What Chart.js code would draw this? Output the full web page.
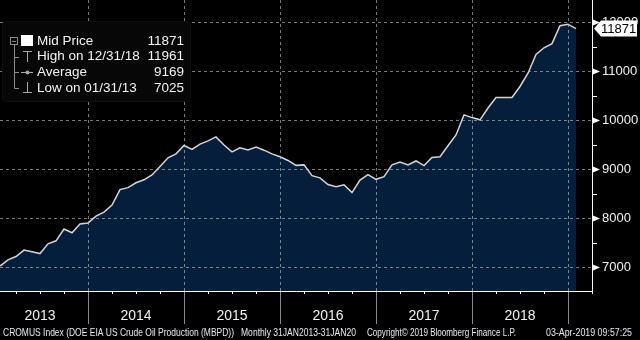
<!DOCTYPE html>
<html>
<head>
<meta charset="utf-8">
<script src="https://cdn.jsdelivr.net/npm/chart.js@4/dist/chart.umd.min.js"></script>
<style>
  html, body { margin: 0; background: #000; }
  canvas { display: block; }
</style>
</head>
<body>
<canvas id="oilChart" width="640" height="340"></canvas>
<script>
// Monthly US crude oil production (MBPD), Jan 2013 .. Jan 2019
const startYear = 2013
const production = [
  7025, 7150, 7220, 7350, 7315, 7280, 7480, 7540, 7780, 7705, 7885, 7905,
  8045, 8125, 8270, 8585, 8625, 8725, 8785, 8885, 9055, 9235, 9315, 9485,
  9405, 9515, 9580, 9660, 9495, 9355, 9440, 9395, 9455, 9390, 9315, 9255,
  9180, 9080, 9090, 8870, 8825, 8690, 8645, 8685, 8525, 8780, 8890, 8795,
  8850, 9090, 9150, 9090, 9170, 9075, 9240, 9255, 9480, 9700, 10110, 10055,
  10010, 10250, 10465, 10465, 10465, 10690, 10960, 11345, 11480, 11565, 11930, 11961,
  11871
]
const yearLabels = ["2013", "2014", "2015", "2016", "2017", "2018"]
const yTickValues = [7000, 7500, 8000, 8500, 9000, 9500, 10000, 10500, 11000, 11500, 12000]
const legendNames = ["Mid Price", "High on 12/31/18", "Average", "Low on 01/31/13"]
const legendValues = ["11871", "11961", "9169", "7025"]
const footerParts = [
  "CROMUS Index (DOE EIA US Crude Oil Production (MBPD))",
  "Monthly 31JAN2013-31JAN20",
  "Copyright\u00a9 2019 Bloomberg Finance L.P.",
  "03-Apr-2019 09:57:25"
]

const FONT = '"Liberation Sans", Arial, sans-serif'
const GRID = "rgba(200,200,200,0.6)"

// quarter ticks on the month index axis (year ends fall on index 11, 23, ...)
const quarterTicks = []
for (let i = 2; i <= 74; i += 3) quarterTicks.push(i)
const isYearEnd = v => (v + 1) % 12 === 0

const decor = {
  id: "decor",
  // dashed grid on top of the filled area
  afterDatasetsDraw(chart) {
    const { ctx, chartArea, scales: { x, y } } = chart
    ctx.save()
    ctx.strokeStyle = GRID
    ctx.lineWidth = 1
    ctx.setLineDash([3, 3])
    ctx.beginPath()
    yTickValues.filter(v => v % 1000 === 0).forEach(v => {
      const py = Math.round(y.getPixelForValue(v)) + 0.5
      ctx.moveTo(chartArea.left, py)
      ctx.lineTo(chartArea.right, py)
    })
    quarterTicks.filter(isYearEnd).forEach(v => {
      const px = Math.round(x.getPixelForValue(v)) + 0.5
      ctx.moveTo(px, chartArea.top)
      ctx.lineTo(px, chartArea.bottom)
    })
    ctx.stroke()
    ctx.restore()
  },
  afterDraw(chart) {
    const { ctx, chartArea, scales: { x, y } } = chart
    ctx.save()

    // y axis markers
    ctx.fillStyle = "#fff"
    ctx.strokeStyle = "#fff"
    ctx.lineWidth = 1
    yTickValues.forEach(v => {
      const py = Math.round(y.getPixelForValue(v)) + 0.5
      if (v % 1000 === 0) {
        ctx.beginPath()
        ctx.moveTo(593, py - 3)
        ctx.lineTo(600, py)
        ctx.lineTo(593, py + 3)
        ctx.closePath()
        ctx.fill()
      } else {
        ctx.beginPath()
        ctx.moveTo(593, py)
        ctx.lineTo(597, py)
        ctx.stroke()
      }
    })

    // year separators + labels
    ctx.strokeStyle = "#8a8a8a"
    yearLabels.forEach((lab, k) => {
      const px = Math.round(x.getPixelForValue((k + 1) * 12 - 1)) + 0.5
      ctx.beginPath()
      ctx.moveTo(px, chartArea.bottom + 1)
      ctx.lineTo(px, 324)
      ctx.stroke()
    })
    ctx.fillStyle = "#f0f0f0"
    ctx.font = "14px " + FONT
    ctx.textAlign = "center"
    ctx.textBaseline = "middle"
    yearLabels.forEach((lab, k) => {
      ctx.fillText(lab, x.getPixelForValue(k * 12 + 5), 316)
    })

    // legend box
    ctx.fillStyle = "#070707"
    ctx.strokeStyle = "#101010"
    ctx.beginPath()
    ctx.roundRect(2.5, 21.5, 188, 80, 4)
    ctx.fill()
    ctx.stroke()

    const rows = [41, 56.5, 72, 88]
    ctx.strokeStyle = "#8c8c8c"
    ctx.strokeRect(10.5, 37.5, 7, 7)
    ctx.beginPath()
    ctx.moveTo(12, 41.5); ctx.lineTo(16, 41.5)
    ctx.moveTo(14.5, 45); ctx.lineTo(14.5, 88.5)
    rows.slice(1).forEach(r => {
      ctx.moveTo(14.5, Math.round(r) + 0.5)
      ctx.lineTo(19, Math.round(r) + 0.5)
    })
    ctx.stroke()

    ctx.fillStyle = "#fff"
    ctx.fillRect(21, 35, 12, 11)

    ctx.strokeStyle = "#a8a8a8"
    ctx.beginPath()
    ctx.moveTo(23, 51.5); ctx.lineTo(32, 51.5)
    ctx.moveTo(27.5, 51.5); ctx.lineTo(27.5, 62)
    ctx.moveTo(21, 72.5); ctx.lineTo(33, 72.5)
    ctx.moveTo(27.5, 82); ctx.lineTo(27.5, 92.5)
    ctx.moveTo(23, 92.5); ctx.lineTo(32, 92.5)
    ctx.stroke()
    ctx.fillStyle = "#a8a8a8"
    ctx.beginPath()
    ctx.arc(27.5, 72.5, 2, 0, Math.PI * 2)
    ctx.fill()

    ctx.fillStyle = "#f2f2f2"
    ctx.font = "13.5px " + FONT
    ctx.textBaseline = "middle"
    legendNames.forEach((name, i) => {
      ctx.textAlign = "left"
      ctx.fillText(name, 37, rows[i])
      ctx.textAlign = "right"
      ctx.fillText(legendValues[i], 184, rows[i])
    })

    // last value tag
    const last = production[production.length - 1]
    const ty = y.getPixelForValue(last)
    ctx.fillStyle = "#fff"
    ctx.beginPath()
    ctx.moveTo(594, ty)
    ctx.lineTo(601, ty - 8)
    ctx.lineTo(637, ty - 8)
    ctx.lineTo(637, ty + 8)
    ctx.lineTo(601, ty + 8)
    ctx.closePath()
    ctx.fill()
    ctx.fillStyle = "#000"
    ctx.font = "13px " + FONT
    ctx.textAlign = "left"
    ctx.fillText(String(last), 601, ty + 0.5)

    // footer
    ctx.fillStyle = "#e4e8ee"
    ctx.font = "11px " + FONT
    ctx.textAlign = "left"
    const fx = [3, 241, 367, 546]
    const fw = [231, 115, 149, 86]
    footerParts.forEach((t, i) => ctx.fillText(t, fx[i], 333, fw[i]))

    ctx.restore()
  }
}

const noPad = s => {
  s.paddingTop = 0
  s.paddingBottom = 0
  s.paddingLeft = 0
  s.paddingRight = 0
}

const ctx = document.getElementById("oilChart").getContext("2d")
new Chart(ctx, {
  type: "line",
  data: {
    datasets: [{
      data: production.map((v, i) => ({ x: i, y: v })),
      borderColor: "#d4d4d4",
      borderWidth: 1.5,
      backgroundColor: "#041e3b",
      fill: "start",
      pointRadius: 0,
      tension: 0
    }]
  },
  options: {
    responsive: false,
    animation: false,
    events: [],
    layout: { padding: 0 },
    plugins: {
      legend: { display: false },
      tooltip: { enabled: false }
    },
    scales: {
      x: {
        type: "linear",
        min: 0,
        max: 74,
        afterBuildTicks: s => { s.ticks = quarterTicks.map(v => ({ value: v })) },
        afterFit: s => { s.height = 49; noPad(s) },
        ticks: { display: false },
        grid: {
          drawOnChartArea: false,
          tickColor: "#fff",
          tickLength: 3,
          drawTicks: true
        },
        border: { color: "#fff", width: 1, z: 1 }
      },
      y: {
        position: "right",
        min: 6516,
        max: 12455,
        afterBuildTicks: s => { s.ticks = yTickValues.map(v => ({ value: v })) },
        afterFit: s => { s.width = 48; noPad(s) },
        ticks: {
          autoSkip: false,
          color: "#f0f0f0",
          font: { size: 13, family: FONT },
          padding: 10,
          callback: v => v % 1000 === 0 ? String(v) : ""
        },
        grid: {
          drawOnChartArea: false,
          drawTicks: false
        },
        border: { color: "#fff", width: 1, z: 1 }
      }
    }
  },
  plugins: [decor]
})
</script>
</body>
</html>
